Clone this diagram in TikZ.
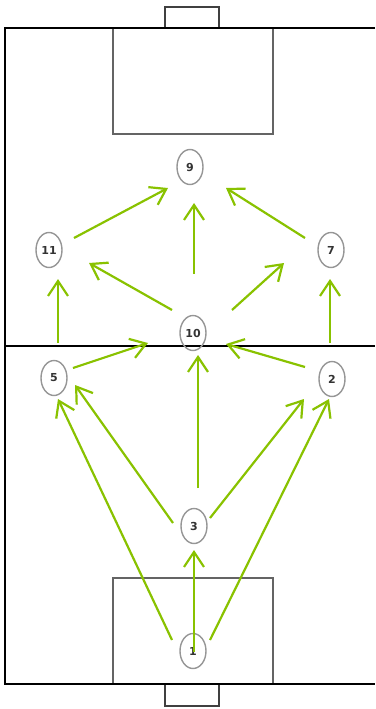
\documentclass[tikz,border=0pt]{standalone}
\usepackage{fontspec}
\newfontfamily\numfont{DejaVu Sans}
\usetikzlibrary{arrows.meta,shapes.geometric,calc}
\definecolor{arrgreen}{RGB}{137,194,0}
\definecolor{boxgray}{RGB}{100,100,100}
\definecolor{nodegray}{RGB}{150,150,150}
\tikzset{
  fieldline/.style={line width=2.4pt,black},
  boxline/.style={line width=1.6pt,boxgray},
  goalline/.style={line width=1.6pt,black!75},
  player/.style={ellipse,draw=nodegray,line width=1.4pt,minimum width=26pt,minimum height=35pt,inner sep=0pt,
    font=\fontsize{11}{12}\selectfont\numfont\bfseries,text=black!80},
  pass/.style={line width=2.2pt,arrgreen,-{Straight Barb[length=15pt,width=20pt,line width=2.2pt]}}
}
\begin{document}
\begin{tikzpicture}[x=1pt,y=-1pt]
\useasboundingbox (0,0) rectangle (375,709);
% field
\draw[boxline] (113,28) rectangle (273,134);
\draw[boxline] (113,684) rectangle (273,578);
\draw[goalline] (165,28) -- (165,7) -- (219,7) -- (219,28);
\draw[goalline] (165,684) -- (165,706) -- (219,706) -- (219,684);
\draw[fieldline] (375,28) -- (5,28) -- (5,684) -- (375,684);
\draw[fieldline] (5,346) -- (375,346);
% players
\node[player] (n9) at (190,167) {9};
\node[player] (n11) at (49,250) {11};
\node[player] (n7) at (331,250) {7};
\node[player] (n10) at (193,333) {10};
\node[player] (n5) at (54,378) {5};
\node[player] (n2) at (332,379) {2};
\node[player] (n3) at (194,526) {3};
\node[player] (n1) at (193,651) {1};
% passes
\draw[pass] ($(n11)+(25,-12)$) -- ($(n9)+(-22,21)$);
\draw[pass] ($(n10)+(1,-59)$) -- ($(n9)+(4,36)$);
\draw[pass] ($(n7)+(-26,-12)$) -- ($(n9)+(36,21)$);
\draw[pass] ($(n10)+(-21,-23)$) -- ($(n11)+(40,13)$);
\draw[pass] ($(n10)+(39,-23)$) -- ($(n7)+(-47,13)$);
\draw[pass] ($(n5)+(4,-35)$) -- ($(n11)+(9,29)$);
\draw[pass] ($(n2)+(-2,-36)$) -- ($(n7)+(-1,29)$);
\draw[pass] ($(n5)+(19,-10)$) -- ($(n10)+(-45,10)$);
\draw[pass] ($(n2)+(-27,-12)$) -- ($(n10)+(33,11)$);
\draw[pass] ($(n3)+(4,-38)$) -- ($(n10)+(5,22)$);
\draw[pass] ($(n3)+(-21,-3)$) -- ($(n5)+(21,7)$);
\draw[pass] ($(n3)+(16,-8)$) -- ($(n2)+(-28,20)$);
\draw[pass] ($(n1)+(-21,-11)$) -- ($(n5)+(4,21)$);
\draw[pass] ($(n1)+(17,-11)$) -- ($(n2)+(-3,20)$);
\draw[pass] ($(n1)+(1,1)$) -- ($(n3)+(0,24)$);
\end{tikzpicture}
\end{document}
